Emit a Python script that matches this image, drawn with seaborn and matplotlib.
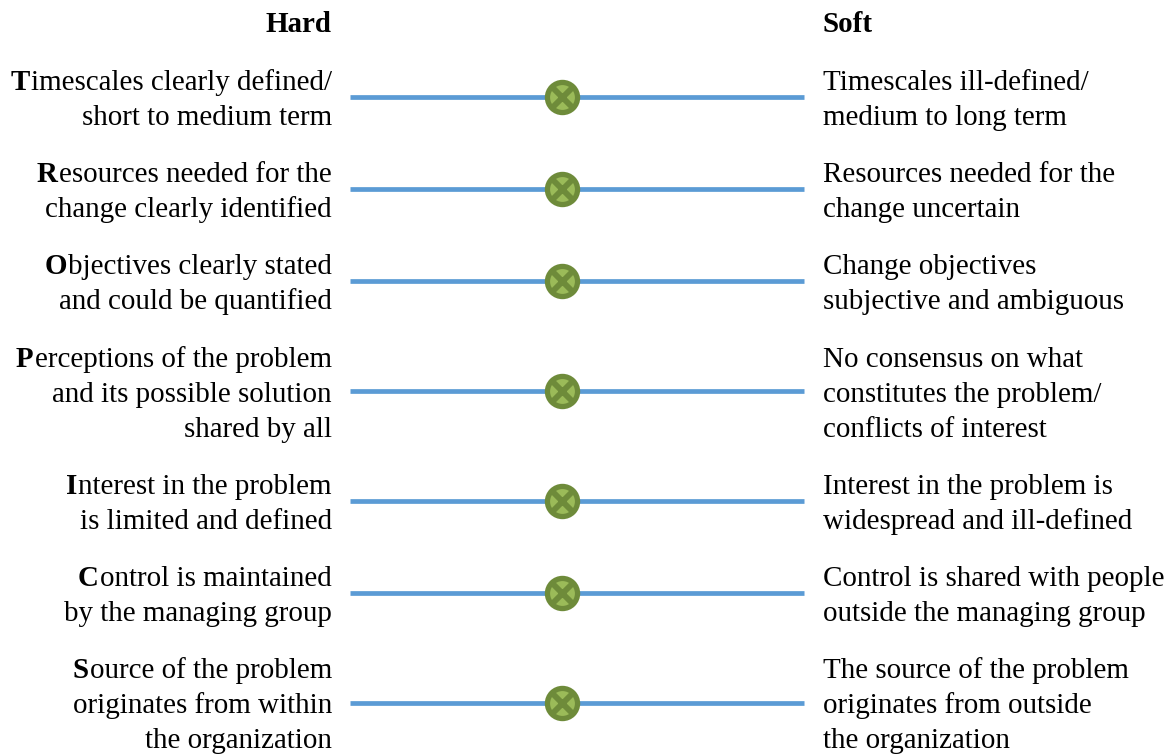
import matplotlib
matplotlib.use("Agg")
import matplotlib.pyplot as plt
import seaborn as sns
import pandas as pd

sns.set_theme(style="white")
plt.rcParams['font.family'] = ['Liberation Serif', 'DejaVu Serif']

headers = ["Hard", "Soft"]
initials = ["T", "R", "O", "P", "I", "C", "S"]
hard_text = [
    ["imescales clearly defined/", "short to medium term"],
    ["esources needed for the", "change clearly identified"],
    ["bjectives clearly stated", "and could be quantified"],
    ["erceptions of the problem", "and its possible solution", "shared by all"],
    ["nterest in the problem", "is limited and defined"],
    ["ontrol is maintained", "by the managing group"],
    ["ource of the problem", "originates from within", "the organization"],
]
soft_text = [
    ["Timescales ill-defined/", "medium to long term"],
    ["Resources needed for the", "change uncertain"],
    ["Change objectives", "subjective and ambiguous"],
    ["No consensus on what", "constitutes the problem/", "conflicts of interest"],
    ["Interest in the problem is", "widespread and ill-defined"],
    ["Control is shared with people", "outside the managing group"],
    ["The source of the problem", "originates from outside", "the organization"],
]
positions = [0.467] * 7  # position on the hard (0) to soft (1) scale

W, H = 1174, 754
LINE = 35
GAP = 22.2
X0, X1 = 350, 804
FS = 20.9

fig = plt.figure(figsize=(W / 100, H / 100), dpi=100, facecolor="white")
ax = fig.add_axes([0, 0, 1, 1])
ax.set_xlim(0, W)
ax.set_ylim(H, 0)
ax.axis("off")

# row centres follow from how many text lines each row holds
centres = []
y = 97
for i, lines in enumerate(hard_text):
    if i:
        y += (LINE * len(hard_text[i - 1]) + LINE * len(lines)) / 2 + GAP
    centres.append(y)

rows = pd.DataFrame({"row": range(7), "y": centres, "pos": positions})
rows["x"] = X0 + rows["pos"] * (X1 - X0)
ends = pd.concat([
    rows.assign(x=X0),
    rows.assign(x=X1),
])
sns.lineplot(data=ends, x="x", y="y", units="row", estimator=None, color="#5B9BD5",
             linewidth=3.4, legend=False, ax=ax, solid_capstyle="butt", zorder=2)
sns.scatterplot(data=rows, x="x", y="y", marker="o", s=470, color="#9BBB59",
                edgecolor="#6E8B3A", linewidth=3.8, legend=False, ax=ax, zorder=3)
sns.scatterplot(data=rows, x="x", y="y", marker="x", s=240, color="#6E8B3A",
                linewidth=4.2, legend=False, ax=ax, zorder=4)
ax.set_xlabel("")
ax.set_ylabel("")
ax.set_xlim(0, W)
ax.set_ylim(H, 0)

ax.text(332, 32, headers[0], ha="right", va="baseline", fontsize=FS, fontweight="bold", color="black")
ax.text(823, 32, headers[1], ha="left", va="baseline", fontsize=FS, fontweight="bold", color="black")

fig.canvas.draw()
renderer = fig.canvas.get_renderer()
for c, init, hard, soft in zip(centres, initials, hard_text, soft_text):
    for lines, x, ha in ((hard, 332, "right"), (soft, 823, "left")):
        base = c + 10.5 - LINE * (len(lines) - 1) / 2
        for j, s in enumerate(lines):
            t = ax.text(x, base + j * LINE, s, ha=ha, va="baseline", fontsize=FS, color="black")
            if ha == "right" and j == 0:
                bb = t.get_window_extent(renderer)
                ax.text(bb.x0 - 1.5, base, init, ha="right", va="baseline", fontsize=FS,
                        fontweight="bold", color="black")

fig.savefig("out.png", dpi=100, facecolor="white")
